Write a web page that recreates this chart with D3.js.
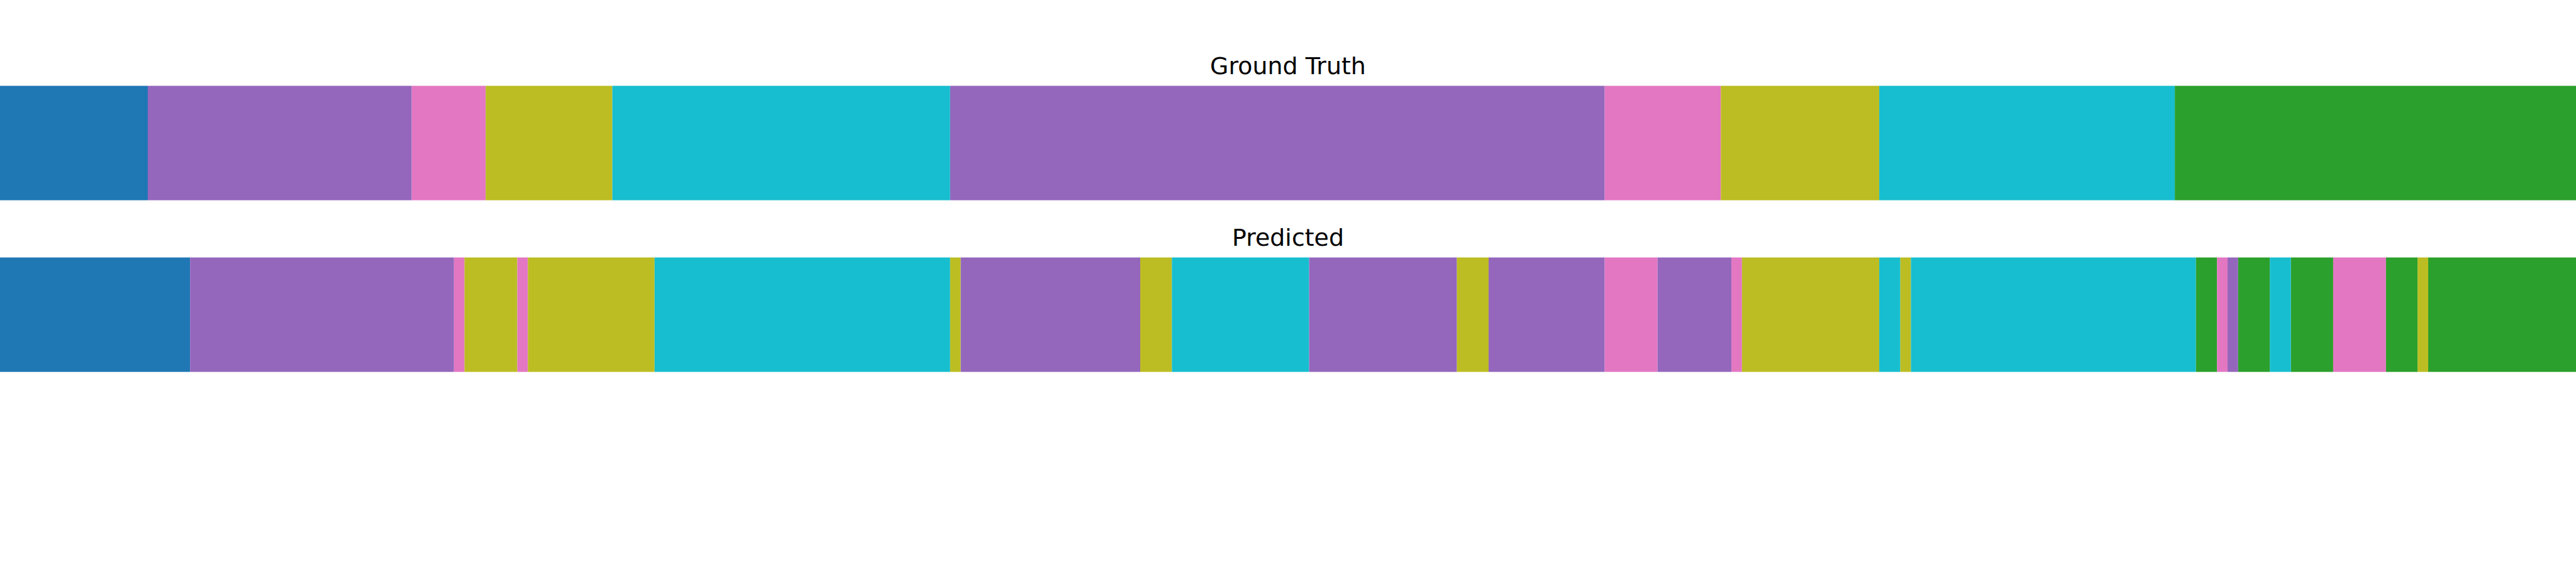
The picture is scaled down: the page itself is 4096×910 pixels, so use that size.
<!DOCTYPE html>
<html>
<head>
<meta charset="utf-8">
<script src="https://cdn.jsdelivr.net/npm/d3@7"></script>
<style>
  html, body { margin: 0; padding: 0; background: #ffffff; overflow: hidden; }
  svg { display: block; }
</style>
</head>
<body>
<script>
// ---- Data (frame indices, class ids coloured with the tab10 palette) ----
const totalFrames = 244;
const rowTitles = ["Ground Truth", "Predicted"];

const gtStarts = [0, 14, 39, 46, 58, 90, 152, 163, 178, 206];
const gtLabels = [0, 4, 6, 8, 9, 4, 6, 8, 9, 2];

const predStarts = [0, 18, 43, 44, 49, 50, 62, 90, 91, 108, 111, 124, 138, 141, 152, 157,
                    164, 165, 178, 180, 181, 208, 210, 211, 212, 215, 217, 221, 226, 229, 230];
const predLabels = [0, 4, 6, 8, 6, 8, 9, 8, 4, 8, 9, 4, 8, 4, 6, 4,
                    6, 8, 9, 8, 9, 2, 6, 4, 2, 9, 2, 6, 2, 8, 2];

// ---- Layout (reference 7200x1600, scaled) ----
const W = 4096, H = 910;
const s = W / 7200;

function toSegments(starts, labels) {
  return starts.map((st, i) => ({
    start: st,
    end: i + 1 < starts.length ? starts[i + 1] : totalFrames,
    label: labels[i]
  }));
}

const rows = [
  { title: rowTitles[0], segs: toSegments(gtStarts, gtLabels), top: 240, bottom: 560 },
  { title: rowTitles[1], segs: toSegments(predStarts, predLabels), top: 720, bottom: 1040 }
];

const x = d3.scaleLinear().domain([0, totalFrames]).range([0, W]);
const color = d3.scaleOrdinal().domain(d3.range(10)).range(d3.schemeCategory10);

const svg = d3.select("body").append("svg")
  .attr("width", W).attr("height", H)
  .style("background", "#ffffff");

rows.forEach(row => {
  const y0 = row.top * s, y1 = row.bottom * s;
  const g = svg.append("g");
  g.selectAll("rect")
    .data(row.segs)
    .join("rect")
    .attr("x", d => x(d.start))
    .attr("width", d => x(d.end) - x(d.start))
    .attr("y", y0)
    .attr("height", y1 - y0)
    .attr("fill", d => color(d.label));
  g.append("text")
    .attr("x", W / 2)
    .attr("y", y0 - 33.3 * s)
    .attr("text-anchor", "middle")
    .attr("font-family", "DejaVu Sans")
    .attr("font-size", 66.7 * s)
    .attr("fill", "#000000")
    .text(row.title);
});
</script>
</body>
</html>
